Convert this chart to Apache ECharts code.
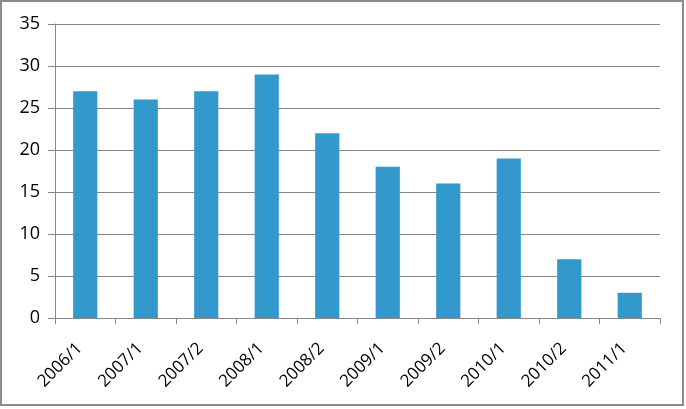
<!DOCTYPE html>
<html>
  <head>
    <meta charset="utf-8" />
    <title>Bar chart</title>
    <script src="https://cdn.jsdelivr.net/npm/echarts@6/dist/echarts.min.js"></script>
    <style>
      html, body { margin: 0; padding: 0; background: #fff; }
      #main {
        position: absolute; left: 0; top: 0;
        width: 680px; height: 402px;
        border: 2px solid #8c8c8c;
        background: #fff;
      }
    </style>
  </head>
  <body>
    <div id="main"></div>
    <script type="text/javascript">
      var categories = ["2006/1", "2007/1", "2007/2", "2008/1", "2008/2", "2009/1", "2009/2", "2010/1", "2010/2", "2011/1"];
      var values = [27, 26, 27, 29, 22, 18, 16, 19, 7, 3];
      var yTicks = { min: 0, max: 35, interval: 5 };

      var myChart = echarts.init(document.getElementById("main"));

      var option = {
        animation: false,
        textStyle: { fontFamily: "Open Sans, Liberation Sans, sans-serif" },
        grid: { left: 53, right: 22, top: 22, bottom: 86 },
        xAxis: {
          type: "category",
          data: categories,
          axisLine: { lineStyle: { color: "#868686", width: 1 } },
          axisTick: { show: true, alignWithLabel: false, length: 6, lineStyle: { color: "#868686" } },
          axisLabel: { rotate: 45, color: "#000", fontSize: 17, margin: 22, padding: [0, 8, 0, 0] }
        },
        yAxis: {
          type: "value",
          min: yTicks.min,
          max: yTicks.max,
          interval: yTicks.interval,
          axisLine: { show: true, lineStyle: { color: "#868686", width: 1 } },
          axisTick: { show: true, length: 7, lineStyle: { color: "#868686" } },
          axisLabel: { color: "#000", fontSize: 18, margin: 15 },
          splitLine: { lineStyle: { color: "#868686", width: 1 } }
        },
        series: [
          {
            type: "bar",
            data: values,
            barWidth: "40%",
            itemStyle: { color: "#3399cc" }
          }
        ]
      };

      myChart.setOption(option);
    </script>
  </body>
</html>
